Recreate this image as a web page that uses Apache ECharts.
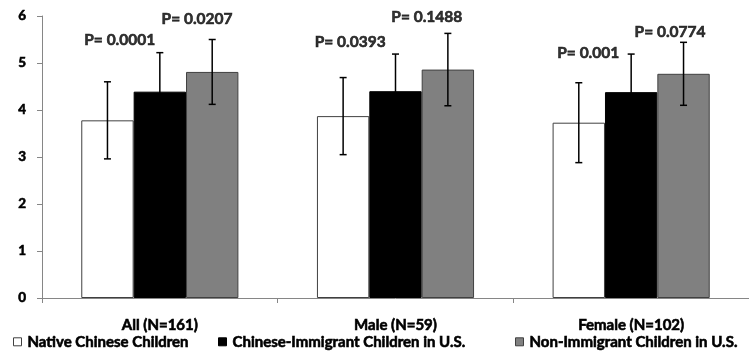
<!DOCTYPE html>
<html>
<head>
<meta charset="utf-8">
<script src="https://cdn.jsdelivr.net/npm/echarts@6/dist/echarts.min.js"></script>
<style>html,body{margin:0;padding:0;background:#fff}#c{width:749px;height:357px}</style>
</head>
<body>
<div id="c"></div>
<script>
const categories = ['All (N=161)', 'Male (N=59)', 'Female (N=102)'];
const seriesNames = ['Native Chinese Children', 'Chinese-Immigrant Children in U.S.', 'Non-Immigrant Children in U.S.'];
const nativeMean = [3.78, 3.87, 3.73];
const nativeSD = [0.82, 0.82, 0.85];
const immigrantMean = [4.39, 4.40, 4.38];
const immigrantSD = [0.83, 0.79, 0.81];
const nonImmigrantMean = [4.81, 4.86, 4.77];
const nonImmigrantSD = [0.69, 0.77, 0.67];
const pLabels = ['P= 0.0001', 'P= 0.0207', 'P= 0.0393', 'P= 0.1488', 'P= 0.001', 'P= 0.0774'];
const pX = [0.330, 0.658, 1.3075, 1.633, 2.318, 2.665];
const pY = [5.50, 5.93, 5.44, 5.97, 5.21, 5.65];
const yTicks = [0, 1, 2, 3, 4, 5, 6];

const FONT = 'Lato';
const WEIGHT = 'bold';
const FAUX = {textBorderColor: '#000', textBorderWidth: 0.6};
const means = [nativeMean, immigrantMean, nonImmigrantMean];
const sds = [nativeSD, immigrantSD, nonImmigrantSD];
const fills = ['#ffffff', '#000000', '#808080'];
const borders = ['#404040', '#000000', '#404040'];
const GAP = 1 / 3;

const chart = echarts.init(document.getElementById('c'), null, {renderer: 'canvas'});

const barSeries = means.map((m, i) => ({
  type: 'bar',
  name: seriesNames[i],
  data: m,
  barCategoryGap: '33.33%',
  barGap: '0%',
  itemStyle: {color: fills[i], borderColor: borders[i], borderWidth: 1},
  emphasis: {disabled: true},
  z: 2
}));

const errSeries = means.map((m, i) => ({
  type: 'custom',
  name: 'err' + i,
  data: m.map((v, k) => [k, v - sds[i][k], v + sds[i][k]]),
  z: 5,
  silent: true,
  renderItem: function (params, api) {
    const c = api.value(0);
    const lo = api.coord([c, api.value(1)]);
    const hi = api.coord([c, api.value(2)]);
    const band = api.size([1, 0])[0];
    const bw = band * (1 - GAP) / 3;
    const x = lo[0] + (i - 1) * bw;
    const cap = 3.5;
    const st = {stroke: '#000', lineWidth: 1.5};
    return {
      type: 'group',
      children: [
        {type: 'line', shape: {x1: x, y1: lo[1], x2: x, y2: hi[1]}, style: st},
        {type: 'line', shape: {x1: x - cap, y1: lo[1], x2: x + cap, y2: lo[1]}, style: st},
        {type: 'line', shape: {x1: x - cap, y1: hi[1], x2: x + cap, y2: hi[1]}, style: st}
      ]
    };
  }
}));

const pSeries = {
  type: 'scatter',
  xAxisIndex: 1,
  symbolSize: 0,
  silent: true,
  z: 6,
  data: pLabels.map((t, k) => ({value: [pX[k], pY[k]], name: t})),
  label: Object.assign({
    show: true,
    position: 'inside',
    formatter: p => p.name,
    color: '#000',
    fontFamily: FONT,
    fontWeight: WEIGHT,
    fontSize: 15.5
  }, FAUX)
};

const legendPos = [13, 218, 515];
const legends = seriesNames.map((n, i) => ({
  data: [{name: n, icon: 'rect', itemStyle: {color: fills[i], borderColor: i === 1 ? '#000' : '#404040', borderWidth: 1}}],
  left: legendPos[i],
  top: 334,
  padding: 0,
  itemWidth: 8,
  itemHeight: 8,
  selectedMode: false,
  textStyle: Object.assign({fontFamily: FONT, fontWeight: WEIGHT, fontSize: 15, color: '#000', padding: [0, 0, 0, 1]}, FAUX)
}));

chart.setOption({
  animation: false,
  backgroundColor: '#fff',
  legend: legends,
  grid: {left: 42, top: 16, width: 720, bottom: 59, containLabel: false},
  xAxis: [{
    type: 'category',
    data: categories,
    axisLine: {lineStyle: {color: '#868686', width: 1}},
    axisTick: {show: true, length: 5, lineStyle: {color: '#868686'}},
    axisLabel: Object.assign({margin: 20, color: '#000', fontFamily: FONT, fontWeight: WEIGHT, fontSize: 15}, FAUX)
  }, {
    type: 'value', min: 0, max: 3, show: false
  }],
  yAxis: {
    type: 'value',
    min: yTicks[0],
    max: yTicks[yTicks.length - 1],
    interval: 1,
    axisLine: {show: true, lineStyle: {color: '#868686', width: 1}},
    axisTick: {show: true, length: 5, lineStyle: {color: '#868686'}},
    splitLine: {show: false},
    axisLabel: Object.assign({margin: 16, color: '#000', fontFamily: FONT, fontWeight: WEIGHT, fontSize: 13.5}, FAUX)
  },
  series: [...barSeries, ...errSeries, pSeries]
});
</script>
</body>
</html>
